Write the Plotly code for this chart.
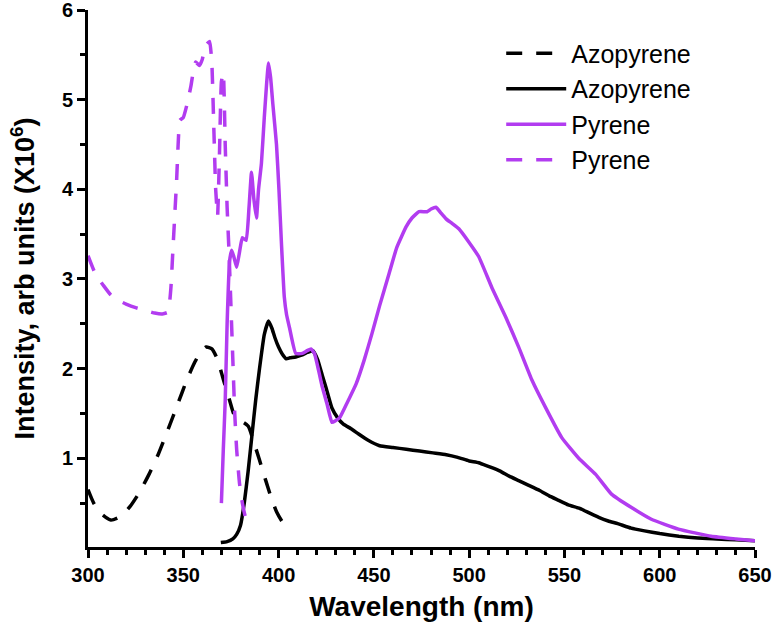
import plotly.graph_objects as go

# Azopyrene (dashed, black) - excitation/absorption
azo_dash_x = [300, 303, 307, 312, 317, 322, 327, 332, 337, 342, 347, 352, 356, 359, 362, 365, 368,
              371, 374, 377, 380, 384, 387, 390, 393, 396, 399, 402, 405]
azo_dash_y = [0.65, 0.5, 0.38, 0.31, 0.35, 0.46, 0.62, 0.82, 1.05, 1.32, 1.6, 1.88, 2.07, 2.18, 2.24,
              2.22, 2.1, 1.88, 1.67, 1.47, 1.42, 1.36, 1.18, 0.98, 0.77, 0.57, 0.4, 0.29, 0.22]

# Azopyrene (solid, black) - emission
azo_solid_x = [369.7, 373, 376, 378, 380, 382, 384, 386, 388, 390, 392.5, 394.7, 396.5, 398, 400, 402,
               404, 406, 409, 412, 415, 418, 420.5, 423, 425, 428, 431, 434, 438, 442, 447, 453, 460,
               467, 474, 481, 488, 494, 500, 505, 510, 516, 521, 526, 531, 537, 542, 547, 552, 558,
               563, 568, 573, 578, 585, 592, 600, 610, 620, 630, 640, 650]
azo_solid_y = [0.06, 0.07, 0.1, 0.15, 0.25, 0.5, 0.85, 1.25, 1.65, 2.0, 2.38, 2.53, 2.45, 2.35, 2.24,
               2.16, 2.11, 2.12, 2.13, 2.15, 2.18, 2.2, 2.1, 1.92, 1.78, 1.56, 1.45, 1.38, 1.33, 1.27,
               1.2, 1.14, 1.12, 1.1, 1.08, 1.06, 1.04, 1.01, 0.97, 0.95, 0.91, 0.86, 0.8, 0.75, 0.7,
               0.64, 0.58, 0.53, 0.48, 0.44, 0.39, 0.34, 0.3, 0.27, 0.22, 0.19, 0.16, 0.13, 0.11,
               0.1, 0.09, 0.08]

# Pyrene (solid, purple) - emission
pyr_solid_x = [370, 371, 372, 373, 374.3, 375.4, 376.5, 378, 379.5, 381, 383, 384.5, 385.8, 387, 388.4,
               389.5, 391, 392.5, 393.8, 394.7, 395.8, 397, 398.9, 400.2, 401.5, 403, 404.2, 405.7,
               409, 412.5, 415, 417, 418.8, 421, 423, 425.5, 428, 430, 432, 436, 440.7, 445, 449,
               453, 458, 462, 466.9, 470, 473.7, 477.9, 480, 482.6, 485, 487.9, 491, 494.6, 499.9,
               505, 512, 519.3, 526, 533, 540, 548.6, 557.5, 566.4, 574.7, 585.2, 595.6, 609.8,
               627, 640, 650]
pyr_solid_y = [0.5, 1.1, 1.64, 2.5, 3.2, 3.32, 3.25, 3.13, 3.3, 3.46, 3.43, 3.8, 4.19, 3.9, 3.68, 4.0,
               4.29, 4.8, 5.2, 5.41, 5.25, 4.95, 4.5, 4.0, 3.4, 2.8, 2.6, 2.46, 2.17, 2.17, 2.2,
               2.22, 2.17, 1.98, 1.79, 1.6, 1.4, 1.42, 1.45, 1.62, 1.83, 2.1, 2.39, 2.7, 3.06, 3.35,
               3.58, 3.68, 3.75, 3.75, 3.78, 3.80, 3.74, 3.67, 3.62, 3.56, 3.41, 3.25, 2.9, 2.57,
               2.24, 1.87, 1.57, 1.23, 1.0, 0.82, 0.6, 0.45, 0.32, 0.21, 0.13, 0.1, 0.08]

# Pyrene (dashed, purple) - excitation
pyr_dash_x = [300, 304, 308, 312, 316, 320, 325, 330, 335, 339, 342, 343.5, 344.5, 345.5, 346.5, 347.3,
              348.2, 350, 352, 354, 355.5, 356.5, 358.5, 360, 361.5, 363.8, 365, 366, 367, 368, 369,
              370, 371, 372, 373, 374, 375, 376, 377, 378, 379.5, 381, 382.5, 384]
pyr_dash_y = [3.26, 3.05, 2.93, 2.82, 2.76, 2.72, 2.68, 2.65, 2.62, 2.61, 2.63, 2.9, 3.3, 3.7, 4.1,
              4.5, 4.77, 4.8, 4.95, 5.15, 5.35, 5.42, 5.38, 5.45, 5.6, 5.65, 5.4, 4.7, 4.0, 3.7, 4.4,
              5.2, 5.3, 4.5, 3.8, 3.3, 2.7, 2.1, 1.5, 1.1, 0.72, 0.5, 0.35, 0.25]

x_range = [300, 650]
x_tick0, x_dtick, x_minor_dtick = 300, 50, 10
y_range = [0.01, 6]          # axis starts at 0 (unlabelled, as in the reference)
y_tick0, y_dtick, y_minor_dtick = 0, 1, 0.5

BLACK = "#000000"
PURPLE = "#B23CF0"
FONT = "Arial, Liberation Sans, sans-serif"
DASH = "16px,14px"

fig = go.Figure()
fig.add_trace(go.Scatter(x=azo_dash_x, y=azo_dash_y, mode="lines", name="Azopyrene",
                         line=dict(color=BLACK, width=3.5, dash=DASH, shape="spline", smoothing=0.6)))
fig.add_trace(go.Scatter(x=azo_solid_x, y=azo_solid_y, mode="lines", name="Azopyrene",
                         line=dict(color=BLACK, width=3.5, shape="spline", smoothing=0.4)))
fig.add_trace(go.Scatter(x=pyr_solid_x, y=pyr_solid_y, mode="lines", name="Pyrene",
                         line=dict(color=PURPLE, width=3.5, shape="spline", smoothing=0.4)))
fig.add_trace(go.Scatter(x=pyr_dash_x, y=pyr_dash_y, mode="lines", name="Pyrene",
                         line=dict(color=PURPLE, width=3.5, dash=DASH, shape="spline", smoothing=0.4)))

fig.update_layout(
    width=773, height=637,
    margin=dict(l=88, r=18, t=10, b=90, autoexpand=False),
    paper_bgcolor="white", plot_bgcolor="white",
    font=dict(family=FONT, color="black"),
    showlegend=True,
    legend=dict(x=0.6195, y=0.962, xanchor="left", yanchor="top",
                font=dict(family=FONT, size=25, color="black"),
                bgcolor="rgba(0,0,0,0)", itemwidth=60, tracegroupgap=0),
)
fig.update_xaxes(
    range=x_range, tickmode="linear", tick0=x_tick0, dtick=x_dtick,
    showline=True, linecolor="black", linewidth=3, mirror=False,
    ticks="outside", ticklen=8, tickwidth=3, tickcolor="black",
    minor=dict(tickmode="linear", tick0=x_tick0, dtick=x_minor_dtick, ticks="outside", ticklen=5,
               tickwidth=2.5, tickcolor="black", showgrid=False),
    showgrid=False, zeroline=False, automargin=False, ticklabeloverflow="allow",
    tickfont=dict(family=FONT, size=20, color="black", weight="bold"),
    title=dict(text="Wavelength (nm)", font=dict(family=FONT, size=28, color="black", weight="bold"),
               standoff=12),
)
fig.update_yaxes(
    range=y_range, tickmode="linear", tick0=y_tick0, dtick=y_dtick,
    showline=True, linecolor="black", linewidth=3, mirror=False,
    ticks="outside", ticklen=8, tickwidth=3, tickcolor="black",
    minor=dict(tickmode="linear", tick0=y_tick0, dtick=y_minor_dtick, ticks="outside", ticklen=5,
               tickwidth=2.5, tickcolor="black", showgrid=False),
    showgrid=False, zeroline=False, automargin=False, ticklabeloverflow="allow",
    tickfont=dict(family=FONT, size=20, color="black", weight="bold"),
    title=dict(text="Intensity, arb units (X10<sup>6</sup>)",
               font=dict(family=FONT, size=27, color="black", weight="bold"), standoff=20),
)

fig.write_html("out.html", config={"displayModeBar": False},
               post_script="document.body.style.margin='0px';")
